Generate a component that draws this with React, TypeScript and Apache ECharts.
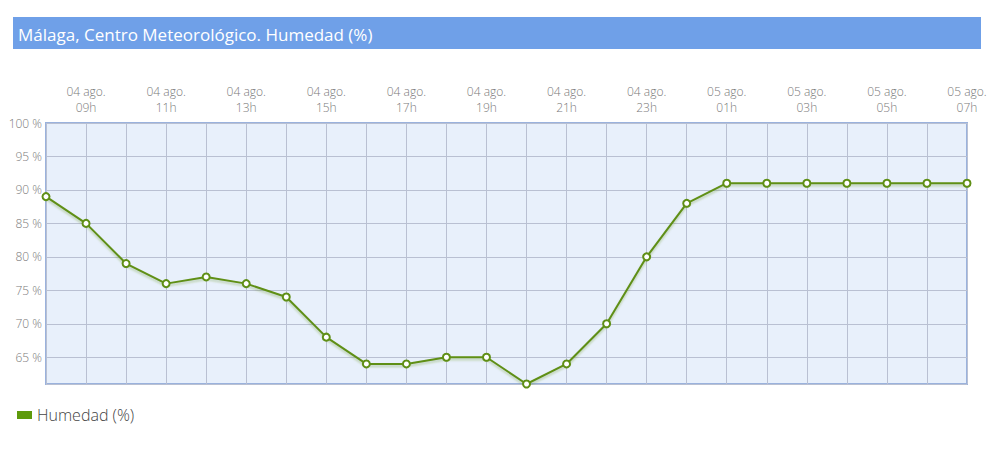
import React, { useEffect, useRef } from "react";
import * as echarts from "echarts";

const hours = [
  "04 ago.\n08h", "04 ago.\n09h", "04 ago.\n10h", "04 ago.\n11h", "04 ago.\n12h",
  "04 ago.\n13h", "04 ago.\n14h", "04 ago.\n15h", "04 ago.\n16h", "04 ago.\n17h",
  "04 ago.\n18h", "04 ago.\n19h", "04 ago.\n20h", "04 ago.\n21h", "04 ago.\n22h",
  "04 ago.\n23h", "05 ago.\n00h", "05 ago.\n01h", "05 ago.\n02h", "05 ago.\n03h",
  "05 ago.\n04h", "05 ago.\n05h", "05 ago.\n06h", "05 ago.\n07h",
];

const humedad = [
  89, 85, 79, 76, 77, 76, 74, 68, 64, 64, 65, 65, 61, 64, 70, 80, 88, 91, 91, 91,
  91, 91, 91, 91,
];

const titleText = "Málaga, Centro Meteorológico. Humedad (%)";
const seriesName = "Humedad (%)";

const App: React.FC = () => {
  const chartRef = useRef<HTMLDivElement>(null);

  useEffect(() => {
    document.body.style.margin = "0";
    if (!chartRef.current) return;
    const chart = echarts.init(chartRef.current, undefined, { renderer: "svg" });

    const font = "'Open Sans', sans-serif";

    const option: echarts.EChartsOption = {
      animation: false,
      textStyle: { fontFamily: font },
      graphic: [
        {
          type: "rect",
          shape: { x: 13, y: 17, width: 968, height: 32 },
          style: { fill: "#6fa0e8" },
        },
        {
          type: "text",
          x: 18,
          y: 34,
          style: {
            text: titleText,
            fill: "#ffffff",
            font: `17px ${font}`,
            verticalAlign: "middle",
          },
        },
      ],
      legend: {
        left: 12,
        top: 402,
        icon: "rect",
        itemWidth: 15,
        itemHeight: 8,
        itemGap: 5,
        textStyle: { fontSize: 16, color: "#444", fontFamily: font, fontWeight: 300 },
        data: [
          { name: seriesName, itemStyle: { color: "#5e9a0b", borderWidth: 0 } },
        ],
      },
      grid: {
        left: 46,
        top: 123,
        width: 921,
        height: 261,
        show: true,
        backgroundColor: "#e8f0fb",
        borderColor: "#9ab2dd",
        borderWidth: 2,
      },
      xAxis: {
        type: "category",
        position: "top",
        boundaryGap: false,
        data: hours,
        axisLine: { show: false },
        axisTick: { show: false },
        axisLabel: {
          interval: (i: number) => i % 2 === 1,
          color: "#7a7a7a",
          fontSize: 12,
          lineHeight: 16,
          margin: 8,
          fontFamily: font,
          fontWeight: 300,
        },
        splitLine: { show: true, interval: 0, lineStyle: { color: "#b9c0d2", width: 1 } },
      },
      yAxis: {
        type: "value",
        min: "dataMin",
        max: 100,
        minInterval: 5,
        maxInterval: 5,
        axisLine: { show: false },
        axisTick: { show: false },
        axisLabel: {
          showMinLabel: false,
          formatter: (v: number) => (v % 5 === 0 ? `${v} %` : ""),
          color: "#7a7a7a",
          fontSize: 12,
          margin: 4,
          fontFamily: font,
          fontWeight: 300,
        },
        splitLine: { lineStyle: { color: "#b9c0d2", width: 1 } },
      },
      series: [
        {
          name: seriesName,
          type: "line",
          data: humedad,
          symbol: "circle",
          symbolSize: 7,
          lineStyle: {
            color: "#5f8f15",
            width: 2,
            shadowColor: "rgba(95,143,21,0.35)",
            shadowBlur: 2,
            shadowOffsetY: 2,
          },
          itemStyle: { color: "#ffffff", borderColor: "#5f8f15", borderWidth: 2 },
        },
      ],
    };

    chart.setOption(option);

    return () => {
      chart.dispose();
    };
  }, []);

  return <div ref={chartRef} style={{ width: 1003, height: 450 }} />;
};

export default App;
